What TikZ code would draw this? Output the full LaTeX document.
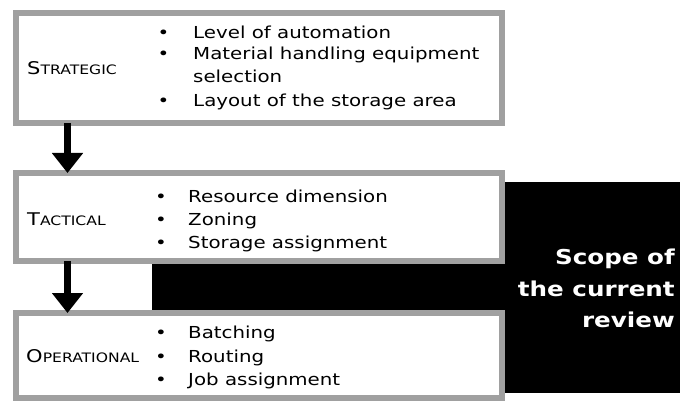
\documentclass[tikz,border=0pt]{standalone}
\usepackage{fontspec}
\setmainfont{DejaVu Sans}
\usepackage{xcolor}
\usepackage{tikz}
\usetikzlibrary{arrows.meta}

\definecolor{boxgray}{RGB}{160,160,160}
\newcommand{\capsword}[2]{{\fontsize{17.5}{20}\selectfont #1}{\fontsize{13}{15}\selectfont #2}}

\tikzset{
  levelbox/.style={draw=boxgray, line width=6pt, fill=white, inner sep=0pt, outer sep=0pt, minimum width=485.5pt},
  item/.style={font=\fontsize{16.5}{19}\selectfont, xscale=1.2, inner sep=0pt, anchor=base west},
  levelname/.style={xscale=1.2, inner sep=0pt, anchor=base west},
  scopetext/.style={font=\fontsize{20.5}{24}\selectfont\bfseries, text=white, xscale=1.2, inner sep=0pt, anchor=base east},
  flow/.style={line width=6.5pt, -{Triangle[width=30pt,length=20pt]}}
}

\begin{document}
\begin{tikzpicture}[x=1pt, y=-1pt]

  \useasboundingbox (0,0) rectangle (680,401);

  % black band behind the boxes
  \fill[black] (152,262) rectangle (680,313);
  \fill[black] (502,182) rectangle (680,393);

  \node[levelbox, minimum height=110pt] (strat) at (258.75,68) {};
  \node[levelbox, minimum height=88pt] (tact) at (258.75,217) {};
  \node[levelbox, minimum height=85pt] (oper) at (258.75,355.5) {};

    \node[levelname] (stratname) at (27,75) {\capsword{S}{TRATEGIC}};
    \node[levelname] (tactname) at (27,225) {\capsword{T}{ACTICAL}};
    \node[levelname] (opername) at (26,362) {\capsword{O}{PERATIONAL}};

    \node[item] (sb1) at (157.5,39) {•};
    \node[item] (sb2) at (157.5,60) {•};
    \node[item] (sb3) at (157.5,107) {•};
    \node[item] (s1) at (193,39) {Level of automation};
    \node[item] (s2) at (193,60) {Material handling equipment};
    \node[item] (s3) at (193,83) {selection};
    \node[item] (s4) at (193,107) {Layout of the storage area};

    \node[item] (tb1) at (155,202) {•};
    \node[item] (tb2) at (155,225) {•};
    \node[item] (tb3) at (155,248) {•};
    \node[item] (t1) at (188,202) {Resource dimension};
    \node[item] (t2) at (188,225) {Zoning};
    \node[item] (t3) at (188,248) {Storage assignment};

    \node[item] (ob1) at (155,338) {•};
    \node[item] (ob2) at (155,362) {•};
    \node[item] (ob3) at (155,385) {•};
    \node[item] (o1) at (188,338) {Batching};
    \node[item] (o2) at (188,362) {Routing};
    \node[item] (o3) at (188,385) {Job assignment};

  \node[scopetext] (scope1) at (675,264) {Scope of};
  \node[scopetext] (scope2) at (675,296) {the current};
  \node[scopetext] (scope3) at (675,327) {review};

  \draw[flow] ([xshift=51.5pt]strat.south west) -- ([xshift=51.5pt]tact.north west);
  \draw[flow] ([xshift=51.5pt]tact.south west) -- ([xshift=51.5pt]oper.north west);

\end{tikzpicture}
\end{document}
